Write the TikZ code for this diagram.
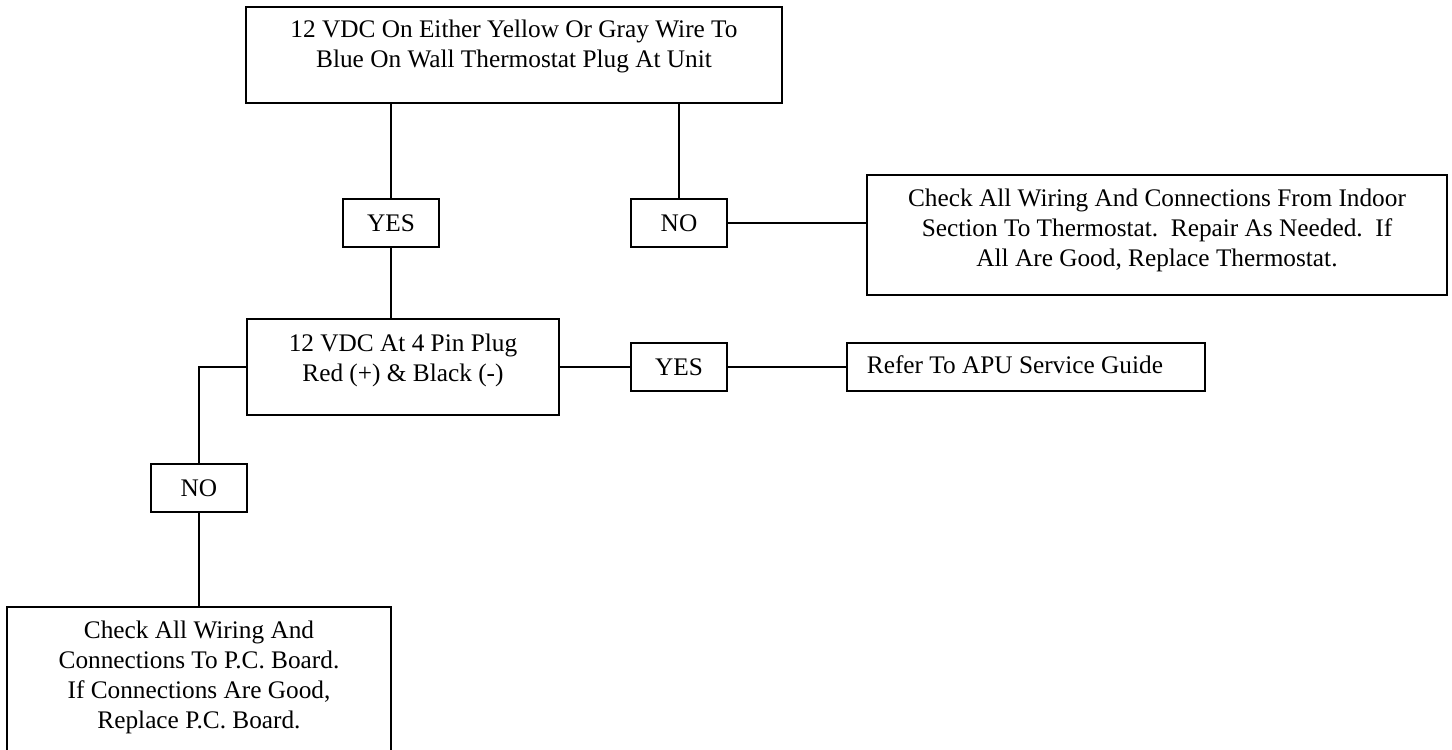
\documentclass[tikz,border=0pt]{standalone}
\usepackage{fontspec}
\setmainfont{Liberation Serif}
\begin{document}
\begin{tikzpicture}[x=1pt,y=-1pt,line width=1.8pt,
  box/.style={draw,rectangle,inner sep=0pt,outer sep=0pt,anchor=north west,
              font=\fontsize{25.3}{30}\selectfont},
  txt/.style={font=\fontsize{25.3}{30}\selectfont,align=center,inner sep=0pt,
              execute at begin node=\strut,execute at end node=\strut},
  wire/.style={draw,line width=1.8pt}]
\useasboundingbox (0,0) rectangle (1452,750);
% boxes
\node[box,minimum width=536pt,minimum height=96pt] (top) at (246,7) {};
\node[box,minimum width=96pt,minimum height=48pt] (yes1) at (343,199) {YES};
\node[box,minimum width=96pt,minimum height=48pt] (no1) at (631,199) {NO};
\node[box,minimum width=580pt,minimum height=120pt] (rbox) at (867,175) {};
\node[box,minimum width=312pt,minimum height=96pt] (mid) at (247,319) {};
\node[box,minimum width=96pt,minimum height=48pt] (yes2) at (631,343) {YES};
\node[box,minimum width=358pt,minimum height=48pt] (refer) at (847,343) {};
\node[box,minimum width=96pt,minimum height=48pt] (no3) at (151,464) {NO};
\node[box,minimum width=384pt,minimum height=144pt] (bot) at (7,607) {};
% texts
\node[txt] (toptxt) at (514,48) {12 VDC On Either Yellow Or Gray Wire To\\Blue On Wall Thermostat Plug At Unit};
\node[txt] (rtxt) at (1157,232.5) {Check All Wiring And Connections From Indoor\\Section To Thermostat.\ \ Repair As Needed.\ \ If\\All Are Good, Replace Thermostat.};
\node[txt] (midtxt) at (403,362) {12 VDC At 4 Pin Plug\\Red (+) \& Black (-)};
\node[txt,anchor=west] (refertxt) at (866,367) {Refer To APU Service Guide};
\node[txt] (bottxt) at (199,679.5) {Check All Wiring And\\Connections To P.C. Board.\\If Connections Are Good,\\Replace P.C. Board.};
% connectors
\draw[wire] (yes1.north |- top.south) -- (yes1.north);
\draw[wire] (no1.north |- top.south) -- (no1.north);
\draw[wire] (no1.east) -- (no1.east -| rbox.west);
\draw[wire] (yes1.south) -- (yes1.south |- mid.north);
\draw[wire] (mid.east) -- (yes2.west);
\draw[wire] (yes2.east) -- (refer.west);
\draw[wire] (mid.west) -| (no3.north);
\draw[wire] (no3.south) -- (no3.south |- bot.north);
\end{tikzpicture}
\end{document}
